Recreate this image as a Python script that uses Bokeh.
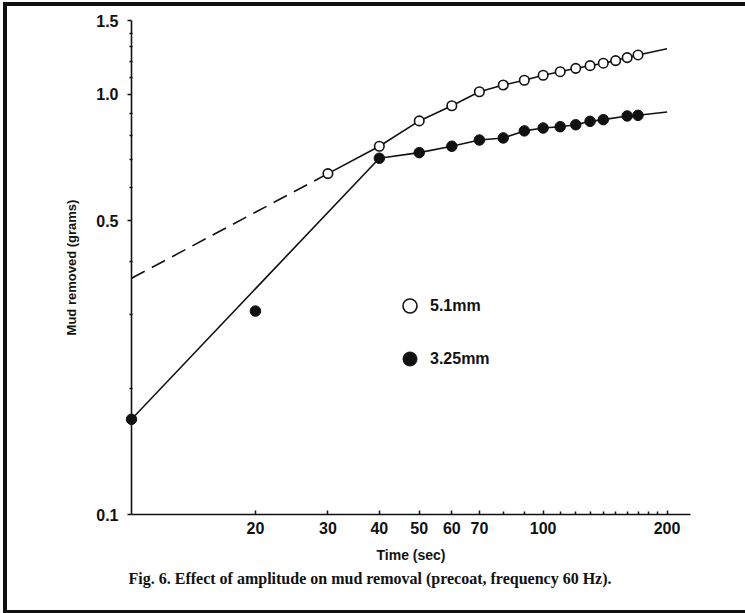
from bokeh.plotting import figure
from bokeh.models import (FixedTicker, CustomJSTickFormatter, Legend, LegendItem,
                          Title, Range1d)
from bokeh.embed import file_html
from bokeh.resources import INLINE

# ---- data ----
open_t = [30, 40, 50, 60, 70, 80, 90, 100, 110, 120, 130, 140, 150, 160, 170]
open_m = [0.648, 0.753, 0.865, 0.940, 1.015, 1.053, 1.081, 1.111, 1.133,
          1.154, 1.171, 1.187, 1.204, 1.224, 1.242]

filled_t = [10, 20, 40, 50, 60, 70, 80, 90, 100, 110, 120, 130, 140, 160, 170]
filled_m = [0.1685, 0.305, 0.705, 0.727, 0.753, 0.779, 0.788, 0.819, 0.832,
            0.838, 0.847, 0.863, 0.871, 0.889, 0.892]

# drawn curves
open_curve_t = [30, 40, 50, 60, 70, 80, 90, 100, 110, 120, 130, 140, 150, 160, 170, 200]
open_curve_m = [0.648, 0.753, 0.865, 0.940, 1.015, 1.053, 1.081, 1.111, 1.133,
                1.154, 1.171, 1.187, 1.204, 1.224, 1.242, 1.285]
open_extrap_t = [10, 30]
open_extrap_m = [0.365, 0.648]
filled_curve_t = [10, 40, 50, 60, 70, 80, 90, 100, 110, 120, 130, 140, 160, 170, 200]
filled_curve_m = [0.1685, 0.705, 0.727, 0.753, 0.779, 0.788, 0.819, 0.832,
                  0.838, 0.847, 0.863, 0.871, 0.889, 0.892, 0.908]

x_major = [20, 30, 40, 50, 60, 70, 100, 200]
x_minor = [80, 90, 110, 120, 130, 140, 150, 160, 170, 180, 190]
y_major = [0.1, 0.5, 1.0, 1.5]
y_minor = [0.2, 0.3, 0.4, 0.6, 0.7, 0.8, 0.9, 1.1, 1.2, 1.3, 1.4]

series_labels = ["5.1mm", "3.25mm"]
caption = "Fig. 6. Effect of amplitude on mud removal (precoat, frequency 60 Hz)."

INK = "#111111"

p = figure(width=738, height=604, x_axis_type="log", y_axis_type="log",
           x_range=Range1d(10, 228), y_range=Range1d(0.1, 1.5),
           output_backend="svg", toolbar_location=None,
           min_border_left=124, min_border_right=55, min_border_top=14,
           min_border_bottom=96)
p.styles = {"margin-left": "7px", "margin-top": "6px",
            "box-shadow": ("-4px 0 0 0 #111, 0 -4px 0 0 #111, -4px -4px 0 0 #111, "
                           "0 3px 0 0 #111, -4px 3px 0 0 #111")}
p.grid.visible = False
p.outline_line_color = None
p.background_fill_color = "white"
p.border_fill_color = "white"

p.xaxis.ticker = FixedTicker(ticks=x_major, minor_ticks=x_minor)
p.yaxis.ticker = FixedTicker(ticks=y_major, minor_ticks=y_minor)
p.xaxis.formatter = CustomJSTickFormatter(code="return Math.round(tick).toString()")
p.yaxis.formatter = CustomJSTickFormatter(code="return tick.toFixed(1)")

for ax in (p.xaxis[0], p.yaxis[0]):
    ax.axis_line_color = INK
    ax.axis_line_width = 1.6
    ax.major_tick_line_color = INK
    ax.major_tick_line_width = 1.5
    ax.minor_tick_line_color = INK
    ax.minor_tick_line_width = 1.5
    ax.major_label_text_font = "Liberation Sans"
    ax.major_label_text_font_style = "bold"
    ax.major_label_text_font_size = "16px"
    ax.major_label_text_color = INK
    ax.axis_label_text_font = "Liberation Sans"
    ax.axis_label_text_font_style = "bold"
    ax.axis_label_text_font_size = "13px"
    ax.axis_label_text_color = INK

p.xaxis.major_tick_in = 4
p.xaxis.major_tick_out = 0
p.xaxis.minor_tick_in = 3
p.xaxis.minor_tick_out = 0
p.xaxis.major_label_standoff = 7
p.xaxis.axis_label = "Time (sec)"
p.xaxis.axis_label_text_font_size = "14px"
p.xaxis.axis_label_standoff = 10

p.yaxis.major_tick_in = 0
p.yaxis.major_tick_out = 4
p.yaxis.minor_tick_in = 1
p.yaxis.minor_tick_out = 2
p.yaxis.major_label_standoff = 9
p.yaxis.axis_label = "Mud removed (grams)"
p.yaxis.axis_label_standoff = 14

# curves
p.line(open_extrap_t, open_extrap_m, line_color=INK, line_width=1.6, line_dash="15 8")
p.line(open_curve_t, open_curve_m, line_color=INK, line_width=1.6)
p.line(filled_curve_t, filled_curve_m, line_color=INK, line_width=1.6)

# points
r_open = p.scatter(open_t, open_m, marker="circle", size=9.5, fill_color="white",
                   line_color=INK, line_width=1.6)
r_filled = p.scatter(filled_t, filled_m, marker="circle", size=10.5, fill_color=INK,
                     line_color=INK, line_width=1, level="overlay")

legend = Legend(items=[LegendItem(label=series_labels[0], renderers=[r_open]),
                       LegendItem(label=series_labels[1], renderers=[r_filled])],
                location=(261, 138), glyph_width=35, glyph_height=35, spacing=18,
                padding=0, margin=0, border_line_color=None,
                background_fill_alpha=0, label_standoff=3,
                label_text_font="Liberation Sans", label_text_font_style="bold",
                label_text_font_size="16px", label_text_color=INK)
p.add_layout(legend)

cap = Title(text=caption, align="left", offset=-3, standoff=5,
            text_font="Liberation Serif", text_font_style="bold",
            text_font_size="16px", text_color=INK)
p.add_layout(cap, "below")

open("out.html", "w").write(file_html(p, INLINE))
